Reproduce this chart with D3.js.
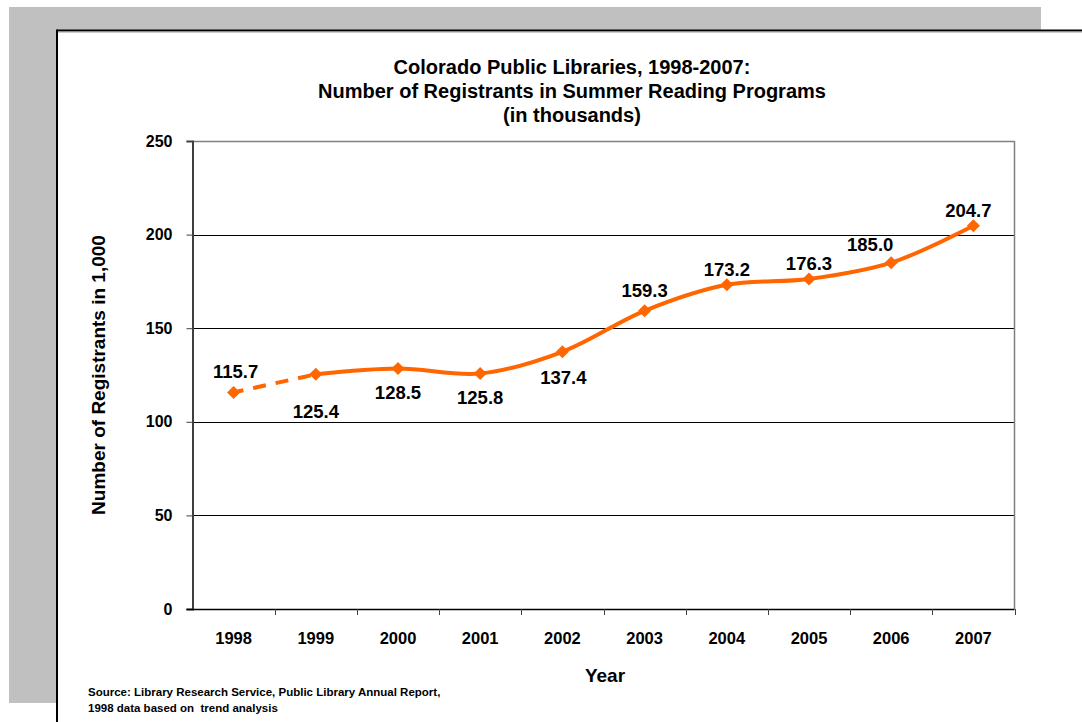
<!DOCTYPE html>
<html>
<head>
<meta charset="utf-8">
<script src="https://d3js.org/d3.v7.min.js"></script>
<style>
  body { margin: 0; background: #fff; }
  svg text { font-family: "Liberation Sans", Arial, sans-serif; font-weight: bold; fill: #000; white-space: pre; }
</style>
</head>
<body>
<div id="chart"></div>
<script>
var years = ['1998', '1999', '2000', '2001', '2002', '2003', '2004', '2005', '2006', '2007'];
var registrants = [115.7, 125.4, 128.5, 125.8, 137.4, 159.3, 173.2, 176.3, 185.0, 204.7];
var yTicks = [0, 50, 100, 150, 200, 250];
var titleLines = ['Colorado Public Libraries, 1998-2007:', 'Number of Registrants in Summer Reading Programs', '(in thousands)'];
var sourceLines = ['Source: Library Research Service, Public Library Annual Report,', '1998 data based on  trend analysis'];

// label placement for each point: [dx, dy] from the marker
var labelOffsets = [[2, -21], [0, 37], [0, 24], [0, 24], [1, 26], [0, -20], [0, -15], [0, -15], [-21, -18], [-5, -15]];

var svg = d3.select('#chart').append('svg')
  .attr('width', 1082).attr('height', 722);

// page background
svg.append('rect').attr('x', 9).attr('y', 7).attr('width', 1032).attr('height', 696).attr('fill', '#c0c0c0');
svg.append('rect').attr('x', 57).attr('y', 30).attr('width', 1030).attr('height', 700).attr('fill', '#fff');
svg.append('line').attr('x1', 57).attr('y1', 30.5).attr('x2', 1082).attr('y2', 30.5)
  .style('stroke', '#000').style('stroke-width', 2);
svg.append('line').attr('x1', 57).attr('y1', 32).attr('x2', 1082).attr('y2', 32)
  .style('stroke', '#999').style('stroke-width', 1);
svg.append('line').attr('x1', 57).attr('y1', 29.5).attr('x2', 57).attr('y2', 722)
  .style('stroke', '#000').style('stroke-width', 2);

var pLeft = 192.5, pRight = 1014.5, pTop = 141, pBottom = 609;

var x = d3.scaleBand().domain(years).range([pLeft, pRight]);
var y = d3.scaleLinear().domain([0, 250]).range([pBottom, pTop]);

// gridlines
svg.append('g').selectAll('line').data(yTicks.filter(function(d){ return d > 0 && d < 250; }))
  .enter().append('line')
  .attr('x1', pLeft).attr('x2', pRight)
  .attr('y1', function(d){ return Math.round(y(d)) + 0.5; })
  .attr('y2', function(d){ return Math.round(y(d)) + 0.5; })
  .style('stroke', '#000').style('stroke-width', 1);

// plot frame top/right
svg.append('line').attr('x1', pLeft).attr('x2', pRight).attr('y1', pTop + 0.5).attr('y2', pTop + 0.5)
  .style('stroke', '#808080').style('stroke-width', 1.5);
svg.append('line').attr('x1', pRight).attr('x2', pRight).attr('y1', pTop).attr('y2', pBottom)
  .style('stroke', '#808080').style('stroke-width', 1.5);

// y axis
var yAxis = svg.append('g').attr('transform', 'translate(' + pLeft + ',0)')
  .call(d3.axisLeft(y).tickValues(yTicks).tickSize(6).tickPadding(14));
yAxis.select('.domain').style('stroke', '#404040').style('stroke-width', 2);
yAxis.selectAll('.tick line').style('stroke', '#404040').style('stroke-width', 1);
yAxis.selectAll('.tick text').style('font-size', '16px')
  .style('font-family', '"Liberation Sans", Arial, sans-serif').style('font-weight', 'bold');

// x axis (ticks between categories)
var xAxisG = svg.append('g').attr('transform', 'translate(0,' + pBottom + ')');
xAxisG.append('line').attr('x1', pLeft - 6).attr('x2', pRight).attr('y1', 0.5).attr('y2', 0.5)
  .style('stroke', '#000').style('stroke-width', 1.5);
xAxisG.selectAll('.xt').data(years)
  .enter().append('line')
  .attr('x1', function(d){ return Math.round(x(d) + x.bandwidth()) + 0.5; })
  .attr('x2', function(d){ return Math.round(x(d) + x.bandwidth()) + 0.5; })
  .attr('y1', 0).attr('y2', 6)
  .style('stroke', '#404040').style('stroke-width', 1);
xAxisG.selectAll('text').data(years).enter().append('text')
  .attr('x', function(d){ return x(d) + x.bandwidth() / 2; })
  .attr('y', 35)
  .attr('text-anchor', 'middle')
  .style('font-size', '16.5px')
  .text(function(d){ return d; });

// series
var pts = years.map(function(d, i){ return [x(d) + x.bandwidth() / 2, y(registrants[i])]; });
var line = d3.line().curve(d3.curveCatmullRom.alpha(0.5));

svg.append('path').attr('d', line(pts.slice(0, 2)))
  .attr('fill', 'none').style('stroke', '#ff6600').style('stroke-width', 4)
  .style('stroke-dasharray', '13,10').attr('stroke-dashoffset', -20);
svg.append('path').attr('d', line(pts.slice(1)))
  .attr('fill', 'none').style('stroke', '#ff6600').style('stroke-width', 4);

svg.append('g').selectAll('path').data(pts).enter().append('path')
  .attr('d', d3.symbol().type(d3.symbolSquare).size(85))
  .attr('transform', function(d){ return 'translate(' + d[0] + ',' + d[1] + ') rotate(45)'; })
  .attr('fill', '#ff6600');

svg.append('g').selectAll('text').data(registrants).enter().append('text')
  .attr('x', function(d, i){ return pts[i][0] + labelOffsets[i][0]; })
  .attr('y', function(d, i){ return pts[i][1] + labelOffsets[i][1]; })
  .attr('dy', '0.35em')
  .attr('text-anchor', 'middle')
  .style('font-size', '18.5px')
  .text(function(d){ return d.toFixed(1); });

// titles
svg.append('g').selectAll('text').data(titleLines).enter().append('text')
  .attr('x', 572).attr('y', function(d, i){ return 74 + i * 24; })
  .attr('text-anchor', 'middle')
  .style('font-size', '20px')
  .text(function(d){ return d; });

svg.append('text').attr('transform', 'translate(105,375) rotate(-90)')
  .attr('text-anchor', 'middle').style('font-size', '19px')
  .text('Number of Registrants in 1,000');

svg.append('text').attr('x', 605).attr('y', 682)
  .attr('text-anchor', 'middle').style('font-size', '19px').text('Year');

svg.append('g').selectAll('text').data(sourceLines).enter().append('text')
  .attr('x', 88).attr('y', function(d, i){ return 696 + i * 16; })
  .style('font-size', '11.5px')
  .text(function(d){ return d; });
</script>
</body>
</html>
